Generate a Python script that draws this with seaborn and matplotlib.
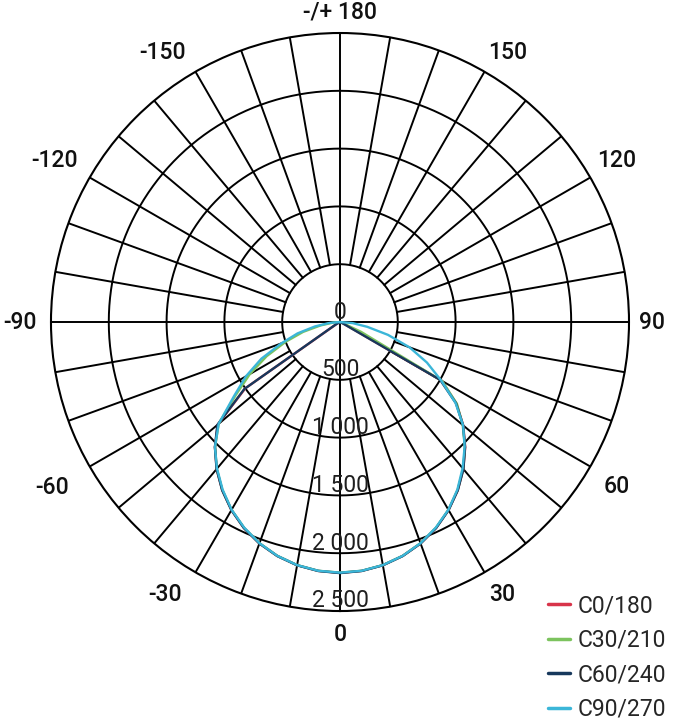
import numpy as np
import pandas as pd
import matplotlib
matplotlib.use("Agg")
import matplotlib.pyplot as plt
import seaborn as sns

# gamma angles, left side negative, right side positive
angles = list(range(-90, 95, 5))

# luminous intensity per C-plane (cd)
c0_180 = [0, 0, 0, 0, 0, 0, 30, 1000, 1380, 1530, 1660, 1776, 1878, 1966, 2038, 2095, 2136, 2161,
          2170,
          2161, 2136, 2095, 2038, 1966, 1878, 1776, 1660, 1532, 1392, 1230, 1015, 40, 0, 0, 0, 0, 0]
c30_210 = [0, 60, 170, 330, 500, 700, 900, 1100, 1370, 1528, 1658, 1774, 1876, 1964, 2036, 2094, 2135, 2160,
           2168,
           2160, 2135, 2094, 2036, 1964, 1876, 1774, 1658, 1528, 1386, 1235, 1020, 200, 20, 0, 0, 0, 0]
c60_240 = [0, 0, 0, 0, 0, 0, 40, 1010, 1385, 1530, 1661, 1777, 1879, 1967, 2039, 2096, 2137, 2162,
           2172,
           2162, 2137, 2096, 2039, 1967, 1879, 1777, 1661, 1530, 1390, 1225, 1000, 20, 0, 0, 0, 0, 0]
c90_270 = [0, 90, 220, 380, 540, 750, 940, 1120, 1370, 1530, 1655, 1770, 1875, 1962, 2036, 2094, 2135, 2160,
           2168,
           2160, 2135, 2094, 2036, 1962, 1875, 1770, 1650, 1525, 1390, 1220, 1010, 830, 640, 430, 240, 110, 0]

planes = ["C0/180", "C30/210", "C60/240", "C90/270"]
colors = ["#d8344a", "#7cc35e", "#17385c", "#3bb6d8"]

r_ticks = [500, 1000, 1500, 2000, 2500]
r_labels = ["500", "1 000", "1 500", "2 000", "2 500"]
theta_ticks = [0, 30, 60, 90, 120, 150, 180, -150, -120, -90, -60, -30]
theta_labels = ["0", "30", "60", "90", "120", "150", "-/+ 180", "-150", "-120", "-90", "-60", "-30"]

# where each angle label sits (angle in deg, radius in cd units)
label_pos = {0: (0, 2705), 30: (30.7, 2742), 60: (59.2, 2785), 90: (90, 2700),
             120: (120.3, 2777), 150: (148.1, 2751), 180: (180, 2685),
             -150: (-146.6, 2794), -120: (-119.6, 2837), -90: (-90, 2770),
             -60: (-60.2, 2872), -30: (-32.7, 2803)}

rows = []
for name, vals in zip(planes, [c0_180, c30_210, c60_240, c90_270]):
    for a, v in zip(angles, vals):
        rows.append({"plane": name, "theta": np.deg2rad(a), "cd": v})
df = pd.DataFrame(rows)

sns.set_style("white")
plt.rcParams["font.family"] = ["Roboto", "DejaVu Sans"]

fig = plt.figure(figsize=(6.77, 7.22), dpi=100)
ax = fig.add_axes([0.0753, 0.1537, 0.8538, 0.8006], projection="polar")
ax.set_theta_zero_location("S")
ax.set_theta_direction(1)
ax.set_ylim(0, 2500)
ax.grid(False)
ax.set_xticklabels([])
ax.set_yticklabels([])
ax.spines["polar"].set_linewidth(1.5)
ax.spines["polar"].set_color("black")

# grid: circles, spokes every 10 deg outside the first ring, cross through the centre
grid_kw = dict(color="black", lw=1.4, zorder=1)
circ = np.linspace(0, 2 * np.pi, 721)
for r in r_ticks[:-1]:
    ax.plot(circ, np.full_like(circ, r), **grid_kw)
for a in range(0, 360, 10):
    t = np.deg2rad(a)
    r0 = 0 if a % 90 == 0 else r_ticks[0]
    ax.plot([t, t], [r0, r_ticks[-1]], **grid_kw)

sns.lineplot(data=df, x="theta", y="cd", hue="plane", hue_order=planes,
             palette=colors, estimator=None, sort=False, lw=1.7, ax=ax, zorder=3)

# radial value labels along the 0 direction
ax.text(np.pi, 85, "0", ha="center", va="center", fontsize=16.5, color="#1e1e1e", zorder=4)
for v, lab in zip(r_ticks, r_labels):
    ax.text(0, v - 88, lab, ha="center", va="center", fontsize=16.5, color="#1e1e1e", zorder=4)

# angle labels around the outside
for a, lab in zip(theta_ticks, theta_labels):
    deg, r_lab = label_pos[a]
    ax.text(np.deg2rad(deg), r_lab, lab, ha="center", va="center", fontsize=16.5,
            color="#111111", fontweight="medium")

ax.set_xlabel("")
ax.set_ylabel("")
sns.move_legend(ax, "upper left", bbox_to_anchor=(0.8095, 0.177), bbox_transform=fig.transFigure,
                frameon=False, title=None, fontsize=16.5, handlelength=0.95, handletextpad=0.34,
                labelspacing=0.5, borderpad=0, borderaxespad=0)
for h in ax.get_legend().get_lines():
    h.set_linewidth(2.5)

fig.savefig("out.png", dpi=100)
